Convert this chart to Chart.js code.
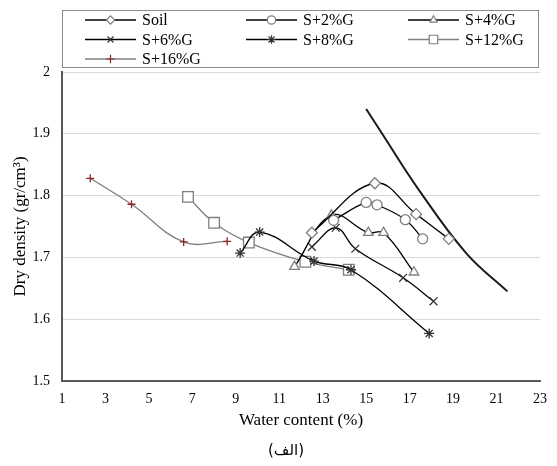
<!DOCTYPE html>
<html>
<head>
<meta charset="utf-8">
<script src="https://cdn.jsdelivr.net/npm/chart.js@4.4.1/dist/chart.umd.min.js"></script>
<style>
	html, body { margin: 0; padding: 0; background: #fff; }
	#wrap { width: 557px; height: 466px; position: relative; }
</style>
</head>
<body>
<div id="wrap"><canvas id="compaction"></canvas></div>
<script>
// water content (%) and dry density (gr/cm3) for each mix
const soilW = [12.5, 15.4, 17.3, 18.8];
const soilD = [1.740, 1.820, 1.770, 1.730];
const g2W = [13.5, 15.0, 15.5, 16.8, 17.6];
const g2D = [1.760, 1.789, 1.785, 1.761, 1.730];
const g4W = [11.7, 13.4, 15.1, 15.8, 17.2];
const g4D = [1.685, 1.768, 1.740, 1.740, 1.676];
const g6W = [12.5, 13.6, 14.5, 16.7, 18.1];
const g6D = [1.717, 1.748, 1.714, 1.667, 1.629];
const g8W = [9.2, 10.1, 12.6, 14.3, 17.9];
const g8D = [1.707, 1.741, 1.694, 1.680, 1.577];
const g12W = [6.8, 8.0, 9.6, 12.2, 14.2];
const g12D = [1.798, 1.756, 1.724, 1.693, 1.680];
const g16W = [2.3, 4.2, 6.6, 8.6];
const g16D = [1.828, 1.786, 1.725, 1.726];
// zero air voids curve
const zavW = [15.0, 15.7, 17.35, 19.6, 21.5];
const zavD = [1.940, 1.902, 1.813, 1.707, 1.645];

const seriesNames = ['Soil', 'S+2%G', 'S+4%G', 'S+6%G', 'S+8%G', 'S+12%G', 'S+16%G'];

const serif = "'Liberation Serif', 'Times New Roman', serif";
const markGrey = '#7f7f7f';

function pts(w, d) {
	return w.map((x, i) => ({ x: x, y: d[i] }));
}

function series(label, w, d, style, radius, lineColor, markColor) {
	return {
		label: label,
		data: pts(w, d),
		borderColor: lineColor,
		borderWidth: 1.3,
		pointStyle: style,
		pointRadius: radius,
		pointBorderColor: markColor,
		pointBackgroundColor: '#ffffff',
		pointBorderWidth: 1.3,
		tension: 0.4,
		showLine: true,
		fill: false,
	};
}

const datasets = [
	series(seriesNames[0], soilW, soilD, 'rectRot', 5.5, '#000', markGrey),
	series(seriesNames[1], g2W, g2D, 'circle', 5, '#000', markGrey),
	series(seriesNames[2], g4W, g4D, 'triangle', 5.5, '#000', markGrey),
	series(seriesNames[3], g6W, g6D, 'crossRot', 5.5, '#000', '#333'),
	series(seriesNames[4], g8W, g8D, 'star', 5, '#000', '#333'),
	series(seriesNames[5], g12W, g12D, 'rect', 7.5, markGrey, markGrey),
	series(seriesNames[6], g16W, g16D, 'cross', 4, markGrey, '#8b2525'),
	{
		label: 'zav',
		data: pts(zavW, zavD),
		borderColor: '#1a1a1a',
		borderWidth: 2,
		pointRadius: 0,
		tension: 0.4,
		showLine: true,
		fill: false,
	},
];

// legend box drawn by hand: three columns, line with marker in the middle
const legendBox = {
	id: 'legendBox',
	afterDraw(chart) {
		const ctx = chart.ctx;
		ctx.save();
		ctx.strokeStyle = '#8c8c8c';
		ctx.lineWidth = 1;
		ctx.strokeRect(62.5, 10.5, 476, 57);
		const cols = [85, 246, 408];
		const rows = [20, 39.5, 59];
		ctx.font = '16px ' + serif;
		ctx.textBaseline = 'middle';
		ctx.textAlign = 'left';
		for (let i = 0; i < seriesNames.length; i++) {
			const ds = chart.data.datasets[i];
			const x0 = cols[i % 3];
			const y = rows[Math.floor(i / 3)];
			ctx.strokeStyle = ds.borderColor;
			ctx.lineWidth = 1.3;
			ctx.beginPath();
			ctx.moveTo(x0, y);
			ctx.lineTo(x0 + 51, y);
			ctx.stroke();
			ctx.strokeStyle = ds.pointBorderColor;
			ctx.fillStyle = '#ffffff';
			ctx.lineWidth = 1.2;
			Chart.helpers.drawPoint(ctx, {
				pointStyle: ds.pointStyle,
				radius: ds.pointStyle === 'rect' ? 6 : 4.2,
				rotation: 0,
				borderWidth: 1.2,
			}, x0 + 25.5, y);
			ctx.fillStyle = '#000';
			ctx.fillText(ds.label, x0 + 57, y + 1);
		}
		// caption under the chart
		ctx.font = "15px 'DejaVu Sans', sans-serif";
		ctx.textAlign = 'center';
		ctx.fillText('(الف)', 286, 451);
		ctx.restore();
	},
};

new Chart(document.getElementById('compaction'), {
	type: 'scatter',
	data: { datasets: datasets },
	options: {
		responsive: true,
		maintainAspectRatio: false,
		animation: false,
		layout: { padding: { top: 72, right: 14, bottom: 30, left: 0 } },
		plugins: {
			legend: { display: false },
			tooltip: { enabled: false },
		},
		scales: {
			x: {
				type: 'linear',
				min: 1,
				max: 23,
				ticks: { stepSize: 2, color: '#000', font: { family: serif, size: 14 }, padding: 10, maxRotation: 0 },
				grid: { display: false, drawTicks: false },
				border: { display: true, color: '#595959', width: 2 },
				title: { display: true, text: 'Water content (%)', color: '#000', font: { family: serif, size: 17 }, padding: { top: 0, bottom: 5 } },
				afterFit(scale) { scale.height = 55; },
			},
			y: {
				min: 1.5,
				max: 2,
				ticks: {
					stepSize: 0.1,
					color: '#000',
					font: { family: serif, size: 14 },
					padding: 12,
					callback: (v) => (Math.abs(v - 2) < 1e-9 ? '2' : v.toFixed(1)),
				},
				grid: { color: '#d9d9d9', lineWidth: 1, drawTicks: false },
				border: { display: true, color: '#595959', width: 2 },
				title: { display: true, text: 'Dry density (gr/cm³)', color: '#000', font: { family: serif, size: 17 }, padding: { top: 10, bottom: 0 } },
				afterFit(scale) { scale.width = 62; },
			},
		},
	},
	plugins: [legendBox],
});
</script>
</body>
</html>
